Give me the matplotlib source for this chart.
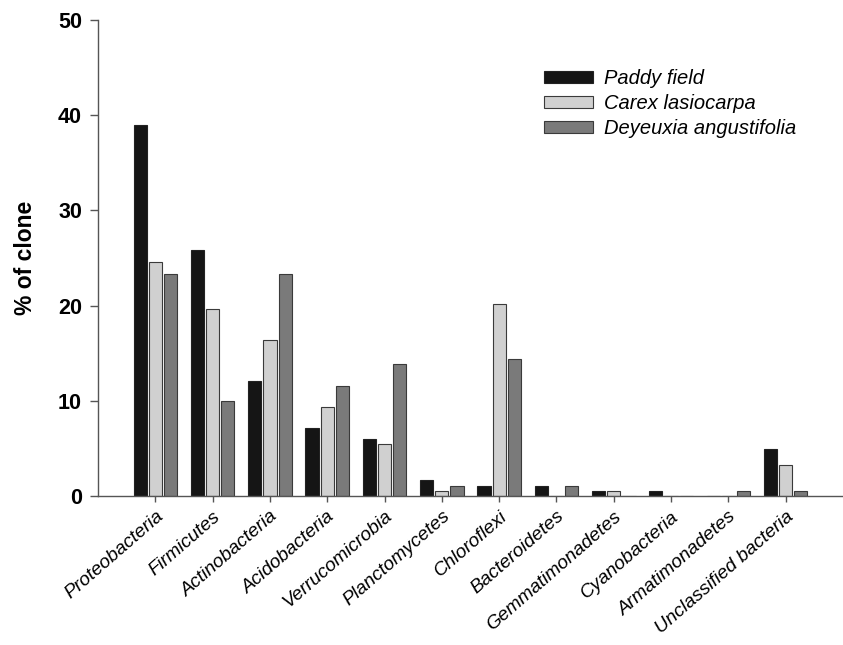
import matplotlib
matplotlib.use("Agg")
import matplotlib.pyplot as plt
import numpy as np

categories = ["Proteobacteria", "Firmicutes", "Actinobacteria", "Acidobacteria",
              "Verrucomicrobia", "Planctomycetes", "Chloroflexi", "Bacteroidetes",
              "Gemmatimonadetes", "Cyanobacteria", "Armatimonadetes",
              "Unclassified bacteria"]
paddy = [39.0, 25.8, 12.1, 7.1, 6.0, 1.65, 1.1, 1.1, 0.55, 0.55, 0.0, 4.95]
carex = [24.6, 19.6, 16.4, 9.3, 5.5, 0.55, 20.2, 0.0, 0.55, 0.0, 0.0, 3.3]
deyeuxia = [23.3, 10.0, 23.3, 11.6, 13.9, 1.1, 14.4, 1.1, 0.0, 0.0, 0.55, 0.55]
series_names = ["Paddy field", "Carex lasiocarpa", "Deyeuxia angustifolia"]
yticks = [0, 10, 20, 30, 40, 50]

plt.rcParams['font.family'] = ['Liberation Sans', 'DejaVu Sans']

fig = plt.figure(figsize=(8.43, 6.45), dpi=100)
ax = fig.add_axes([0.1163, 0.231, 0.8837, 0.738])

x = np.arange(len(categories))
w = 0.23
off = 0.265
ax.bar(x - off, paddy, w, color="#151515", edgecolor="#222222", linewidth=0.8, label=series_names[0])
ax.bar(x, carex, w, color="#d0d0d0", edgecolor="#3a3a3a", linewidth=0.8, label=series_names[1])
ax.bar(x + off, deyeuxia, w, color="#7a7a7a", edgecolor="#3a3a3a", linewidth=0.8, label=series_names[2])

ax.set_xlim(-1, 12)
ax.set_ylim(0, 50)
ax.set_yticks(yticks)
ax.set_yticklabels([str(t) for t in yticks], fontweight="bold", fontsize=15.5)
ax.set_xticks(x)
ax.set_xticklabels(categories, rotation=41, ha="right", rotation_mode="anchor",
                   fontstyle="italic", fontsize=13.8)
ax.tick_params(axis="y", direction="out", length=6, width=1, color="#555555", pad=5.5)
ax.tick_params(axis="x", direction="out", length=4.5, width=1, color="#555555", pad=4)
for s in ["top", "right"]:
    ax.spines[s].set_visible(False)
for s in ["left", "bottom"]:
    ax.spines[s].set_color("#555555")
    ax.spines[s].set_linewidth(1)
ax.set_ylabel("% of clone", fontweight="bold", fontsize=16.5, labelpad=15)

leg = ax.legend(loc="upper left", bbox_to_anchor=(544 / 843, 1 - 69 / 645),
                bbox_transform=fig.transFigure, frameon=False, borderpad=0,
                borderaxespad=0,
                prop={"style": "italic", "size": 14.5}, handlelength=2.45,
                handleheight=0.6, handletextpad=0.55, labelspacing=0.3)

fig.savefig("out.png", dpi=100)
